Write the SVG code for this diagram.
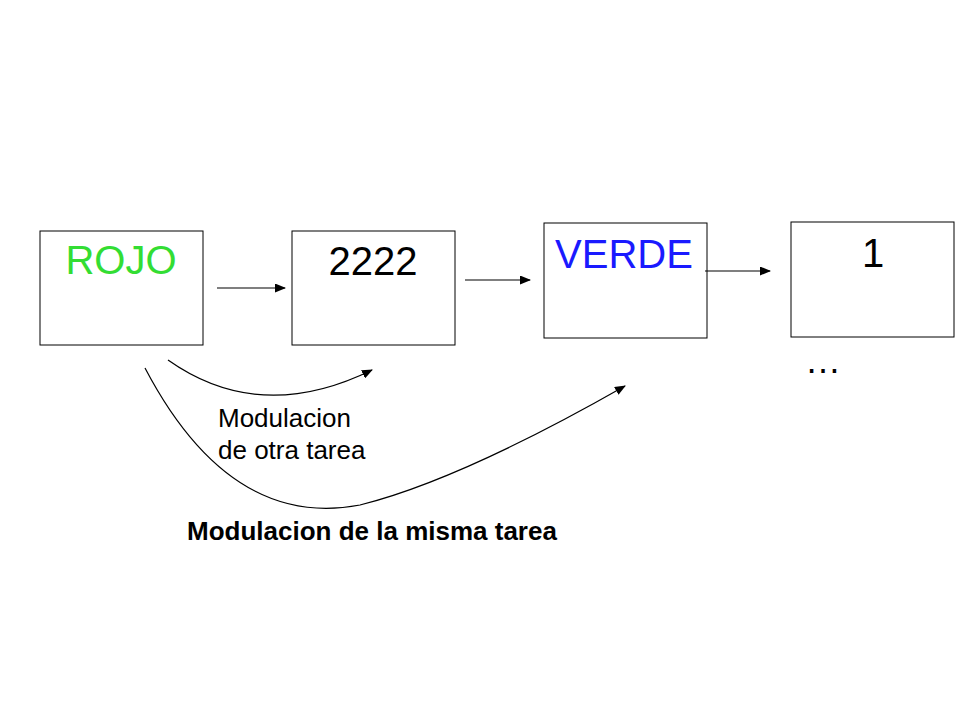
<svg xmlns="http://www.w3.org/2000/svg" width="960" height="720" viewBox="0 0 960 720">
<style>
.box{fill:#fff;stroke:#000;stroke-width:1}
.t{font-family:"Liberation Sans",Arial,sans-serif}
.ln{fill:none;stroke:#000;stroke-width:1.2}
</style>
<defs><marker id="a" markerWidth="11" markerHeight="9" refX="10" refY="4.5" orient="auto" markerUnits="userSpaceOnUse"><path d="M0,0 L11,4.5 L0,9 Z" fill="#000"/></marker></defs>
<rect width="960" height="720" fill="#fff"/>
<g id="rojo"><rect class="box" x="40" y="231" width="163" height="114"/><text class="t" x="121" y="274" font-size="40" fill="#33dd33" text-anchor="middle">ROJO</text></g>
<g id="n2222"><rect class="box" x="292" y="231" width="163" height="114"/><text class="t" x="373" y="275" font-size="40" text-anchor="middle">2222</text></g>
<g id="verde"><rect class="box" x="544" y="223" width="163" height="115"/><text class="t" x="624" y="268" font-size="40" fill="#1a1aff" text-anchor="middle">VERDE</text></g>
<g id="uno"><rect class="box" x="791" y="222" width="163" height="115"/><text class="t" x="873" y="267" font-size="40" text-anchor="middle">1</text></g>
<text class="t" x="805" y="373" font-size="36">…</text>
<g id="connectors">
<line class="ln" x1="217" y1="288" x2="285" y2="288" marker-end="url(#a)"/>
<line class="ln" x1="465" y1="280" x2="530" y2="280" marker-end="url(#a)"/>
<line class="ln" x1="705" y1="271" x2="770" y2="271" marker-end="url(#a)"/>
<path class="ln" d="M168,360 Q260,425 372,370" marker-end="url(#a)"/>
<path class="ln" d="M145,368 Q230,530 360,505 Q460,480 625,386" marker-end="url(#a)"/>
</g>
<text class="t" x="218" y="427" font-size="26">Modulacion</text>
<text class="t" x="218" y="459" font-size="26">de otra tarea</text>
<text class="t" x="187" y="540" font-size="26" font-weight="bold">Modulacion de la misma tarea</text>
</svg>
